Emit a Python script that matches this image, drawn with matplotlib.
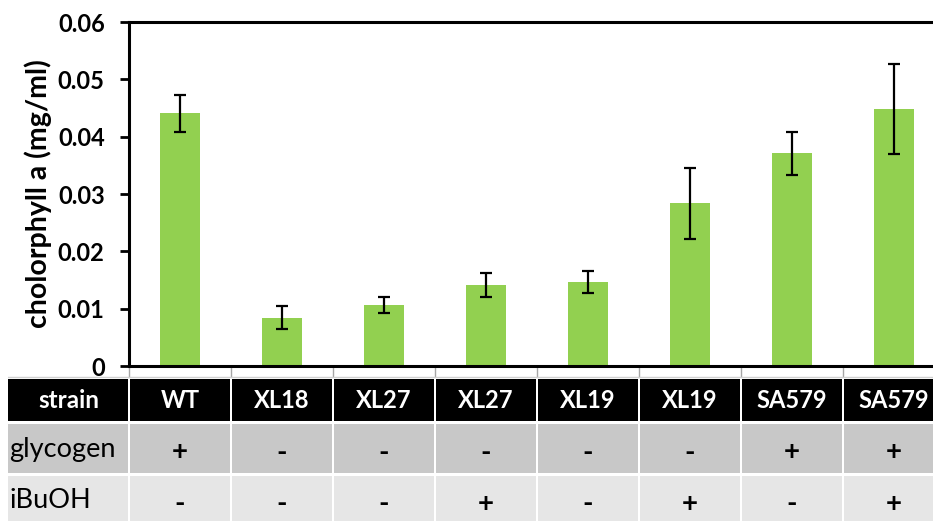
import matplotlib
matplotlib.use("Agg")
import matplotlib.pyplot as plt
from matplotlib.patches import Rectangle
import numpy as np

plt.rcParams['font.family'] = ['Lato', 'DejaVu Sans']

# data
strains = ["WT", "XL18", "XL27", "XL27", "XL19", "XL19", "SA579", "SA579"]
glycogen = ["+", "-", "-", "-", "-", "-", "+", "+"]
ibuoh = ["-", "-", "-", "+", "-", "+", "-", "+"]
chl = [0.0441, 0.0084, 0.0107, 0.0141, 0.0147, 0.0284, 0.0371, 0.0448]
chl_err = [0.0032, 0.0020, 0.0014, 0.0021, 0.0019, 0.0062, 0.0038, 0.0079]
yticks = [0, 0.01, 0.02, 0.03, 0.04, 0.05, 0.06]
ytick_labels = ["0", "0.01", "0.02", "0.03", "0.04", "0.05", "0.06"]

W, H = 933, 521
fig = plt.figure(figsize=(W / 100, H / 100), dpi=100)

# chart area in pixel terms
x0, x1 = 129, 945
y_top, y_bot = 22, 366
ax = fig.add_axes([x0 / W, (H - y_bot) / H, (x1 - x0) / W, (y_bot - y_top) / H])

x = np.arange(len(strains))
ax.bar(x, chl, width=0.39, color="#92D050", edgecolor="none", zorder=2)
ax.errorbar(x, chl, yerr=chl_err, fmt="none", ecolor="black", elinewidth=1.6,
            capsize=4.5, capthick=1.6, zorder=3)

ax.set_xlim(-0.5, len(strains) - 0.5)
ax.set_ylim(0, 0.06)
ax.set_yticks(yticks)
ax.set_yticklabels(ytick_labels, fontsize=17, fontweight="bold")
ax.set_xticks(np.arange(-0.5, len(strains)))
ax.set_xticklabels([])
ax.tick_params(axis="x", direction="out", length=8, width=1, color="#a6a6a6")
ax.tick_params(axis="y", direction="out", length=6.5, width=2, color="black", pad=11)

for side in ["left", "bottom", "top"]:
    ax.spines[side].set_linewidth(2.2)
    ax.spines[side].set_color("black")
ax.spines["right"].set_visible(False)

ax.set_ylabel("cholorphyll a (mg/ml)", fontsize=20.5, fontweight="bold", labelpad=4)

# condition table beneath the bars
tab = fig.add_axes([8 / W, 0, (x1 - 8) / W, (H - 376) / H])
lab_left = -0.5 - (x0 - 8) / 102.0
tab.set_xlim(lab_left, len(strains) - 0.5)
tab.set_ylim(H, 376)
tab.axis("off")

tab.axhline(377, color="#d0d0d0", lw=1)

rows = [
    ("strain", strains, 379, 421, "black", "white", "bold", 17, 0),
    ("glycogen", glycogen, 424, 473, "#c8c8c8", "black", "normal", 20, 3),
    ("iBuOH", ibuoh, 476, 524, "#e6e6e6", "black", "normal", 20, 3),
]
gap = 0.012
for label, vals, ya, yb, bg, fg, lab_weight, val_size, dy in rows:
    yc = (ya + yb) / 2
    tab.add_patch(Rectangle((lab_left, ya), (-0.5 - gap) - lab_left, yb - ya,
                            facecolor=bg, edgecolor="none", clip_on=False))
    if label == "strain":
        tab.text((lab_left - 0.5) / 2, yc + 1, label, ha="center",
                 va="center", color=fg, fontsize=17.5, fontweight=lab_weight)
    else:
        tab.text(lab_left + 0.01, yc + 1, label, ha="left",
                 va="center", color=fg, fontsize=19.5, fontweight=lab_weight)
    for i, v in enumerate(vals):
        tab.add_patch(Rectangle((i - 0.5 + gap, ya), 1 - 2 * gap, yb - ya,
                                facecolor=bg, edgecolor="none", clip_on=False))
        tab.text(i, yc + 1 + dy, v, ha="center", va="center", color=fg,
                 fontsize=val_size, fontweight="bold")

fig.savefig("out.png", dpi=100, facecolor="white")
